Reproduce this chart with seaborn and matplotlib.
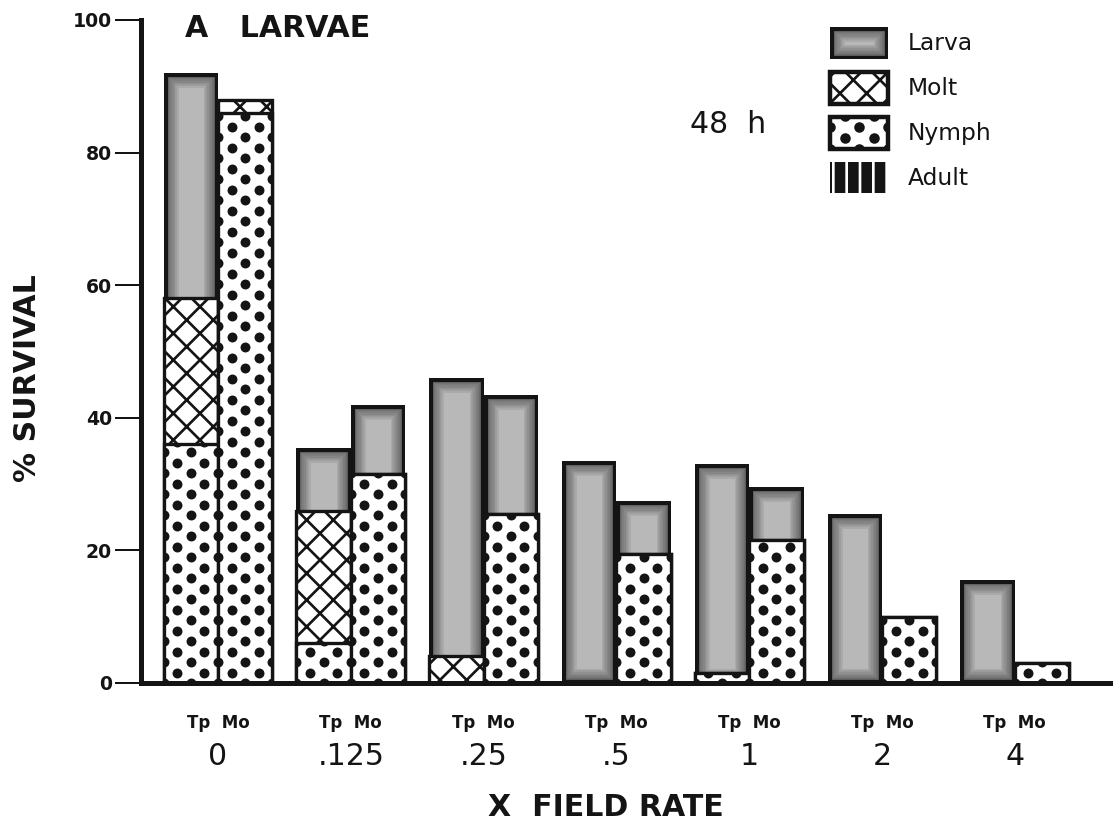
import numpy as np
import pandas as pd
import matplotlib
matplotlib.use("Agg")
import matplotlib.pyplot as plt
import matplotlib.patheffects as pe
from matplotlib.patches import Patch
from matplotlib.transforms import IdentityTransform
import seaborn as sns

# ---- % survival by life stage after 48 h, per field-rate multiple ----
rates = ["0", ".125", ".25", ".5", "1", "2", "4"]
treatments = ["Tp", "Mo"]
stages = ["Larva", "Molt", "Nymph", "Adult"]

larva_tp = [34.0, 9.5, 42.0, 33.5, 31.5, 25.5, 15.5]
molt_tp = [22.0, 20.0, 4.0, 0.0, 0.0, 0.0, 0.0]
nymph_tp = [36.0, 6.0, 0.0, 0.0, 1.5, 0.0, 0.0]
adult_tp = [0.0, 0.0, 0.0, 0.0, 0.0, 0.0, 0.0]

larva_mo = [0.0, 10.5, 18.0, 8.0, 8.0, 0.0, 0.0]
molt_mo = [2.0, 0.0, 0.0, 0.0, 0.0, 0.0, 0.0]
nymph_mo = [86.0, 31.5, 25.5, 19.5, 21.5, 10.0, 3.0]
adult_mo = [0.0, 0.0, 0.0, 0.0, 0.0, 0.0, 0.0]

yticks = [0, 20, 40, 60, 80, 100]

# ---- long table with cumulative tops (stacked bottom-up: Adult, Nymph, Molt, Larva) ----
frames = []
for trt, la, mo, ny, ad in [("Tp", larva_tp, molt_tp, nymph_tp, adult_tp),
                            ("Mo", larva_mo, molt_mo, nymph_mo, adult_mo)]:
    frames.append(pd.DataFrame({"rate": rates, "treatment": trt,
                                "Larva": la, "Molt": mo, "Nymph": ny, "Adult": ad}))
df = pd.concat(frames, ignore_index=True)
running = np.zeros(len(df))
for st in ["Adult", "Nymph", "Molt", "Larva"]:
    running = running + df[st].to_numpy()
    df["top_" + st] = running

# ---- figure setup ----
W, H, DPI = 1113, 829, 80
INK = "#141414"
LARVA_FACE = "#b8b8b8"

sns.set_theme(style="white")
plt.rcParams.update({
    "font.family": ["DejaVu Sans"],
    "hatch.linewidth": 2.4,
    "text.color": INK,
    "axes.edgecolor": INK,
    "xtick.color": INK,
    "ytick.color": INK,
})

fig = plt.figure(figsize=(W / DPI, H / DPI), dpi=DPI, facecolor="white")
ax = fig.add_axes([141 / W, 1 - 683 / H, 1 - 141 / W, (683 - 20) / H])


def larva_effects():
    # grey fill that darkens smoothly toward the outline (strokes are clipped to the bar)
    fx = [pe.PathPatchEffect(facecolor=LARVA_FACE, edgecolor="none")]
    for lw in (26, 23, 20, 17, 14, 11, 9, 7):
        fx.append(pe.PathPatchEffect(facecolor="none", edgecolor="#2e2e2e",
                                     linewidth=lw, alpha=0.10))
    fx.append(pe.PathPatchEffect(facecolor="none", edgecolor=INK, linewidth=6.5))
    return fx


def style_patch(p, stage):
    if stage == "Larva":
        p.set_clip_path(p)
        p.set_path_effects(larva_effects())
    elif stage == "Molt":
        p.set_facecolor("white")
        p.set_edgecolor(INK)
        p.set_linewidth(3)
        p.set_hatch("x")
    elif stage == "Nymph":
        p.set_facecolor("white")
        p.set_edgecolor(INK)
        p.set_linewidth(3)
    else:
        p.set_facecolor(INK)
        p.set_edgecolor("white")
        p.set_linewidth(0)
        p.set_hatch("|")


# draw cumulative layers tallest first so each lower stage sits on top
layer_patches = {}
for st in stages:
    n0 = len(ax.patches)
    sns.barplot(data=df, x="rate", y="top_" + st, hue="treatment",
                order=rates, hue_order=treatments, dodge=True, width=0.82, gap=0,
                errorbar=None, legend=False, palette=["white", "white"],
                saturation=1, linewidth=0, ax=ax)
    layer_patches[st] = list(ax.patches[n0:])
    for p in layer_patches[st]:
        if p.get_height() <= 0:
            p.set_visible(False)
        else:
            style_patch(p, st)

# ---- axes ----
ax.set_xlim(-0.58, 6.74)
ax.set_ylim(0, 100)
ax.set_xlabel("")
ax.set_ylabel("")
for side in ["top", "right"]:
    ax.spines[side].set_visible(False)
for side in ["left", "bottom"]:
    ax.spines[side].set_linewidth(4.5)
    ax.spines[side].set_color(INK)

ax.set_yticks(yticks)
ax.set_yticklabels([str(t) for t in yticks], fontsize=17, fontweight="bold")
ax.tick_params(axis="y", direction="out", length=23.4, width=1.8, pad=2.7, left=True)

ax.set_xticks(range(len(rates)))
ax.set_xticklabels(rates, fontsize=27)
ax.tick_params(axis="x", length=0, pad=53, bottom=False)

for i in range(len(rates)):
    ax.annotate("  ".join(treatments), xy=(i, 0), xycoords=("data", "axes fraction"),
                xytext=(0, -45), textcoords="offset pixels", ha="center", va="baseline",
                fontsize=15, fontweight="bold")

# ---- titles and labels ----
fig.text(185 / W, 1 - 37 / H, "A   LARVAE", fontsize=27, fontweight="bold",
         ha="left", va="baseline")
fig.text(728 / W, 1 - 133 / H, "48  h", fontsize=27, ha="center", va="baseline")
fig.text(27.5 / W, 1 - 378 / H, "% SURVIVAL", fontsize=27, fontweight="bold",
         rotation=90, ha="center", va="center")
fig.text(606 / W, 1 - 816 / H, "X  FIELD RATE", fontsize=27, fontweight="bold",
         ha="center", va="baseline")

# ---- legend ----
handles = [
    Patch(facecolor=LARVA_FACE, edgecolor=INK, linewidth=4, label="Larva"),
    Patch(facecolor="white", edgecolor=INK, linewidth=4, hatch="x", label="Molt"),
    Patch(facecolor="white", edgecolor=INK, linewidth=4, label="Nymph"),
    Patch(facecolor=INK, edgecolor="white", linewidth=0, hatch="|", label="Adult"),
]
leg = ax.legend(handles=handles, loc="upper left",
                bbox_to_anchor=(830 / W, 1 - 27 / H), bbox_transform=fig.transFigure,
                frameon=False, fontsize=21, handlelength=2.49, handleheight=1.72,
                labelspacing=0.56, handletextpad=0.86, borderpad=0, borderaxespad=0)
leg_patches = leg.get_patches()
leg_patches[0].set_clip_path(leg_patches[0])
leg_patches[0].set_path_effects(larva_effects())

fig.canvas.draw()


def add_dots(patch, row_step, size, zorder):
    """Fill a rectangle with a staggered lattice of solid dots."""
    bb = patch.get_window_extent()
    if bb.height <= 0 or not patch.get_visible():
        return
    xs, ys = [], []
    j = 0
    while bb.y0 + j * row_step <= bb.y1 + row_step:
        fr = (0.0, 0.5, 1.0) if j % 2 == 0 else (0.25, 0.75)
        for f in fr:
            xs.append(bb.x0 + f * bb.width)
            ys.append(bb.y0 + j * row_step)
        j += 1
    sc = ax.scatter(xs, ys, s=size, c=INK, linewidths=0,
                    transform=IdentityTransform(), zorder=zorder)
    sc.set_clip_path(patch)


for p in layer_patches["Nymph"]:
    add_dots(p, 10.5, 80, 1.5)
add_dots(leg_patches[2], 11.0, 90, 6)

ax.set_xlim(-0.58, 6.74)
ax.set_ylim(0, 100)

fig.savefig("out.png", dpi=DPI, facecolor="white")
